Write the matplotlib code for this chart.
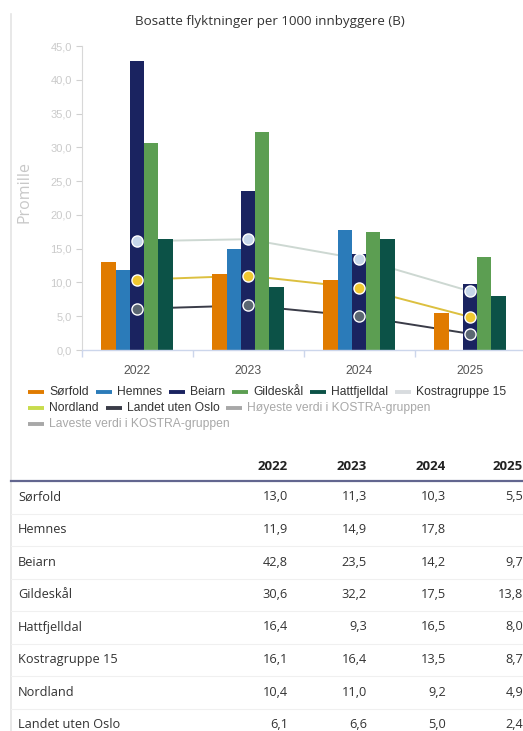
import numpy as np
import matplotlib
matplotlib.use("Agg")
import matplotlib.pyplot as plt
from matplotlib.lines import Line2D

# ---------------- data ----------------
years = ["2022", "2023", "2024", "2025"]
sorfold = [13.0, 11.3, 10.3, 5.5]
hemnes = [11.9, 14.9, 17.8, np.nan]
beiarn = [42.8, 23.5, 14.2, 9.7]
gildeskal = [30.6, 32.2, 17.5, 13.8]
hattfjelldal = [16.4, 9.3, 16.5, 8.0]
kostragruppe15 = [16.1, 16.4, 13.5, 8.7]
nordland = [10.4, 11.0, 9.2, 4.9]
landet_uten_oslo = [6.1, 6.6, 5.0, 2.4]

bar_names = ["Sørfold", "Hemnes", "Beiarn", "Gildeskål", "Hattfjelldal"]
bar_values = [sorfold, hemnes, beiarn, gildeskal, hattfjelldal]
line_names = ["Kostragruppe 15", "Nordland", "Landet uten Oslo"]
line_values = [kostragruppe15, nordland, landet_uten_oslo]
hidden_names = ["Høyeste verdi i KOSTRA-gruppen", "Laveste verdi i KOSTRA-gruppen"]
yticks = [0, 5, 10, 15, 20, 25, 30, 35, 40, 45]

title = "Bosatte flyktninger per 1000 innbyggere (B)"
ylabel = "Promille"

# ---------------- style ----------------
bar_colors = ["#e07b00", "#2b7bb9", "#1a2360", "#5c9e52", "#0c5247"]
line_colors = ["#cdd8d2", "#dcc040", "#3a3c48"]
marker_colors = ["#c6d6ea", "#f0c832", "#5b6772"]
legend_line_colors = ["#d8dcdf", "#c8dc4c", "#3a3c48"]
hidden_color = "#a8a8a8"

W, H = 523, 731
fig = plt.figure(figsize=(W / 100, H / 100), dpi=100)
fig.patch.set_facecolor("white")


def fx(px):
    return px / W


def fy(py):
    return 1 - py / H


# plot area: x 81.5 -> 525.5, y 46 -> 350
ax = fig.add_axes([fx(81.5), fy(350), 444 / W, 304 / H])
ax.set_facecolor("white")

x = np.arange(len(years))
bw = 0.128
n = len(bar_names)
for i, (name, vals, c) in enumerate(zip(bar_names, bar_values, bar_colors)):
    offs = (i - (n - 1) / 2) * bw
    ax.bar(x + offs, vals, width=bw, color=c, zorder=2, linewidth=0)

for name, vals, lc, mc in zip(line_names, line_values, line_colors, marker_colors):
    ax.plot(x, vals, color=lc, lw=1.4, zorder=1)
    ax.plot(x, vals, ls="none", marker="o", ms=8, mfc=mc, mec="white",
            mew=1.0, zorder=3)

ax.set_xlim(-0.5, len(years) - 0.5)
ax.set_ylim(0, 45)
ax.set_yticks(yticks)
ax.set_yticklabels([f"{v:.1f}".replace(".", ",") for v in yticks],
                   fontsize=8, color="#cacaca", family="Liberation Sans")
ax.set_xticks(x)
ax.set_xticklabels(years, fontsize=8.7, color="#555555", family="Liberation Sans")
ax.set_xticks(np.arange(len(years) + 1) - 0.5, minor=True)
ax.tick_params(axis="x", which="major", length=0, pad=11)
ax.tick_params(axis="x", which="minor", length=5, color="#ccd6eb", width=1)
ax.tick_params(axis="y", length=4, color="#d0d0d0", width=0.8, pad=3)
for s in ["top", "right"]:
    ax.spines[s].set_visible(False)
ax.spines["left"].set_color("#d8d8d8")
ax.spines["bottom"].set_color("#ccd6eb")
ax.spines["left"].set_linewidth(0.8)
ax.spines["bottom"].set_linewidth(1)

fig.text(fx(25), fy(192), ylabel, rotation=90, ha="center", va="center",
         fontsize=11.5, color="#c8c8c8", family="Open Sans")
fig.text(fx(270), fy(22), title, ha="center", va="center", fontsize=9.6,
         color="#333333", family="Open Sans")

# container left border
fig.add_artist(Line2D([fx(11), fx(11)], [fy(14), fy(731)], color="#e4e4e4", lw=1.2))

# ---------------- legend (manual, wrapped like the original) ----------------
fig.canvas.draw()
renderer = fig.canvas.get_renderer()
entries = ([(nm, c, "#333333") for nm, c in zip(bar_names, bar_colors)]
           + [(nm, c, "#333333") for nm, c in zip(line_names, legend_line_colors)]
           + [(nm, hidden_color, hidden_color) for nm in hidden_names])
leg_x0, leg_y0, leg_dy = 28, 392, 16
sym_w, sym_gap, item_gap = 16, 5, 7
max_x = 522
cx, cy = leg_x0, leg_y0
for nm, sc, tc in entries:
    t = fig.text(0, 0, nm, fontsize=8.7, family="Liberation Sans", color=tc,
                 ha="left", va="center")
    tw = t.get_window_extent(renderer).width
    item_w = sym_w + sym_gap + tw
    if cx + item_w > max_x and cx > leg_x0:
        cx = leg_x0
        cy += leg_dy
    fig.add_artist(Line2D([fx(cx), fx(cx + sym_w)], [fy(cy), fy(cy)], color=sc,
                          lw=2.8, solid_capstyle="butt"))
    t.set_position((fx(cx + sym_w + sym_gap), fy(cy)))
    cx += item_w + item_gap

# ---------------- table ----------------
table_rows = bar_names + line_names
table_vals = bar_values + line_values
col_right = [288, 367, 446, 523]
header_y = 467
for cr, yr in zip(col_right, years):
    fig.text(fx(cr), fy(header_y), yr, ha="right", va="center", fontsize=9.5,
             fontweight="bold", color="#222222", family="Open Sans")
fig.add_artist(Line2D([fx(11), fx(523)], [fy(481), fy(481)], color="#62668f", lw=1.6))
row_y0, row_dy = 497, 32.5
for r, (nm, vals) in enumerate(zip(table_rows, table_vals)):
    yy = row_y0 + r * row_dy
    fig.text(fx(18), fy(yy), nm, ha="left", va="center", fontsize=9.2,
             color="#333333", family="Open Sans")
    for cr, v in zip(col_right, vals):
        if v is None or (isinstance(v, float) and np.isnan(v)):
            continue
        fig.text(fx(cr), fy(yy), f"{v:.1f}".replace(".", ","), ha="right",
                 va="center", fontsize=9.2, color="#333333", family="Open Sans")
    if r < len(table_rows) - 1:
        fig.add_artist(Line2D([fx(11), fx(523)], [fy(yy + 16.5), fy(yy + 16.5)],
                              color="#f0f0f0", lw=0.8))

fig.savefig("out.png", dpi=100, facecolor="white")
